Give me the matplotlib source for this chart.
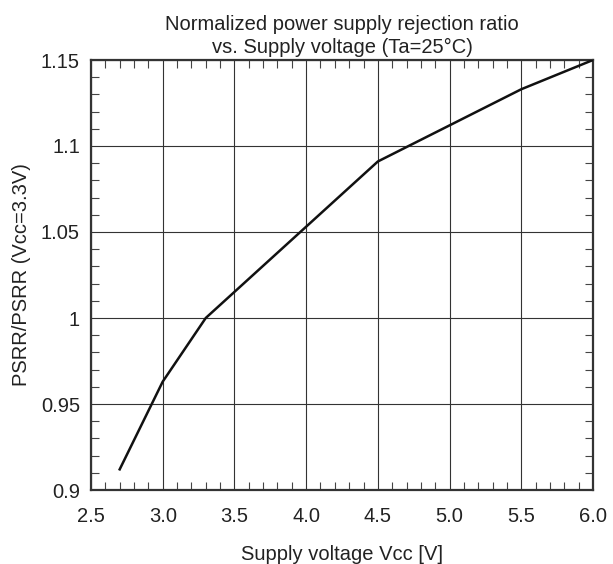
import matplotlib
matplotlib.use("Agg")
import matplotlib.pyplot as plt
from matplotlib.ticker import MultipleLocator, FixedLocator

plt.rcParams["font.family"] = ["Liberation Sans", "DejaVu Sans"]

# data
vcc = [2.7, 3.0, 3.3, 4.5, 5.5, 6.0]
psrr_norm = [0.912, 0.963, 1.000, 1.091, 1.133, 1.150]

x_ticks = [2.5, 3.0, 3.5, 4.0, 4.5, 5.0, 5.5, 6.0]
x_labels = ["2.5", "3.0", "3.5", "4.0", "4.5", "5.0", "5.5", "6.0"]
y_ticks = [0.9, 0.95, 1.0, 1.05, 1.1, 1.15]
y_labels = ["0.9", "0.95", "1", "1.05", "1.1", "1.15"]

FS = 14.5
TXT = "#222222"

fig = plt.figure(figsize=(6.13, 5.64), dpi=100)
ax = fig.add_axes([91 / 613, 1 - 490 / 564, 502 / 613, 430 / 564])

ax.plot(vcc, psrr_norm, color="#111111", lw=1.8, zorder=3)

ax.set_xlim(2.5, 6.0)
ax.set_ylim(0.9, 1.15)
ax.xaxis.set_major_locator(FixedLocator(x_ticks))
ax.set_xticklabels(x_labels)
ax.yaxis.set_major_locator(FixedLocator(y_ticks))
ax.set_yticklabels(y_labels)
ax.xaxis.set_minor_locator(MultipleLocator(0.1))
ax.yaxis.set_minor_locator(MultipleLocator(0.01))

ax.grid(which="major", color="#333333", lw=0.8)
ax.tick_params(which="both", direction="in", top=True, right=True,
               labelsize=FS, color="#444444", labelcolor=TXT)
ax.tick_params(which="major", length=0)
ax.tick_params(axis="x", which="major", pad=12)
ax.tick_params(axis="y", which="major", pad=8)
ax.tick_params(which="minor", length=6, width=0.8)
for s in ax.spines.values():
    s.set_linewidth(1.6)
    s.set_color("#333333")

ax.set_xlabel("Supply voltage Vcc [V]", fontsize=FS, labelpad=14, color=TXT)
ax.set_ylabel("PSRR/PSRR (Vcc=3.3V)", fontsize=FS, labelpad=7, color=TXT)
ax.set_title("Normalized power supply rejection ratio\nvs. Supply voltage (Ta=25°C)",
             fontsize=FS, pad=5, linespacing=1.25, color=TXT)

fig.savefig("out.png", dpi=100)
